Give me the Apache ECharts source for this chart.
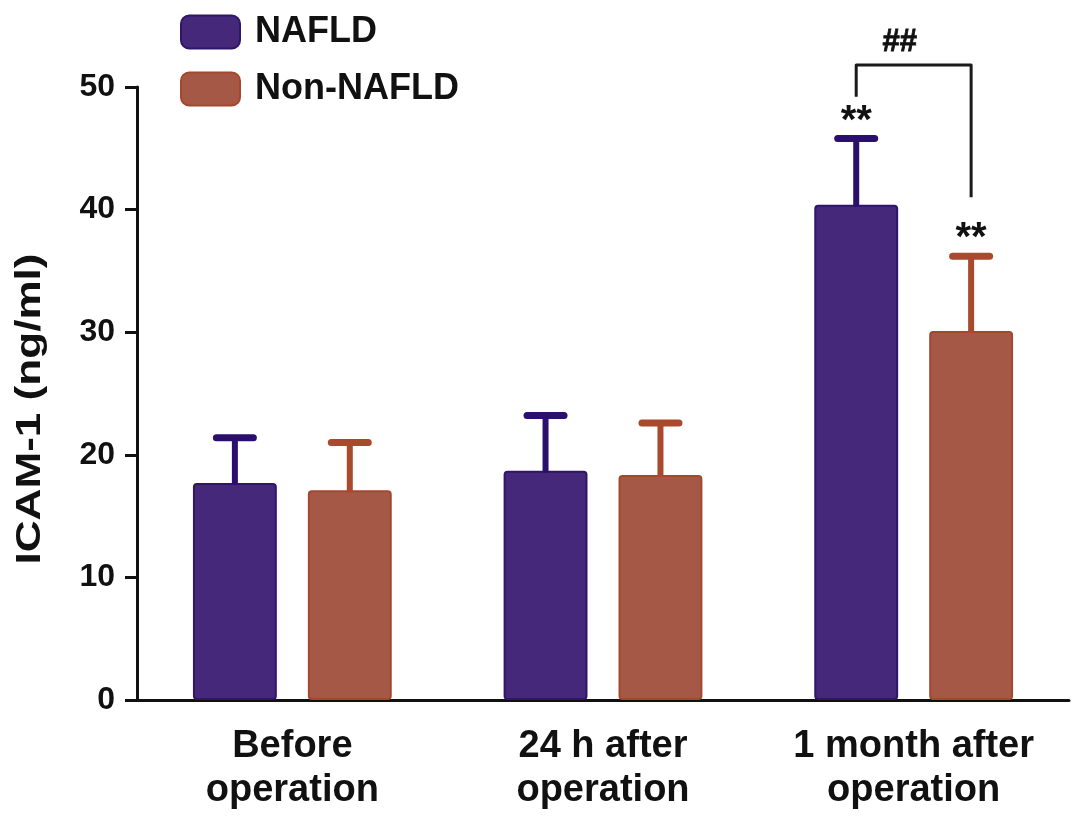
<!DOCTYPE html>
<html>
<head>
<meta charset="utf-8">
<script src="https://cdn.jsdelivr.net/npm/echarts@6/dist/echarts.min.js"></script>
<style>
html,body{margin:0;padding:0;background:#fff;}
#chart{width:1087px;height:829px;}
</style>
</head>
<body>
<div id="chart"></div>
<script>
// ---- data ----
const categories = ['Before\noperation', '24 h after\noperation', '1 month after\noperation'];
const seriesNames = ['NAFLD', 'Non-NAFLD'];
const nafldMean = [17.7, 18.7, 40.4];
const nafldSD = [3.7, 4.5, 5.4];
const nonMean = [17.1, 18.35, 30.1];
const nonSD = [3.9, 4.25, 6.1];
const yMin = 0, yMax = 50, yInterval = 10;
const yTitle = 'ICAM-1 (ng/ml)';
// significance marks: [categoryIndex, seriesIndex(0 NAFLD / 1 Non), text]
const starMarks = [[2, 0, '**'], [2, 1, '**']];
// bracket between groups: [categoryIndex, topValue, leftEndValue, rightEndValue]
const bracketData = [[2, 51.8, 49.2, 41.0]];
const bracketLabel = '##';

// ---- styling ----
const FONT = '"Liberation Sans", Arial, Helvetica, sans-serif';
const C_NAFLD = '#452879', C_NAFLD_B = '#2F1668', C_NAFLD_E = '#2A0F6C';
const C_NON = '#A65846', C_NON_B = '#A3482F', C_NON_E = '#A9492E';
const BAR_RATIO = 0.27, GAP_RATIO = 0.37;

function barOffset(api, sign) {
  const band = api.size([1, 0])[0];
  return sign * band * BAR_RATIO * (1 + GAP_RATIO) / 2;
}

function errRender(sign, color) {
  return function (params, api) {
    const i = api.value(0), m = api.value(1), s = api.value(2);
    const base = api.coord([i, m]);
    const top = api.coord([i, m + s]);
    const x = base[0] + barOffset(api, sign);
    const capHalf = 18.5;
    return {
      type: 'group',
      children: [
        { type: 'line', shape: { x1: x, y1: base[1] + 2, x2: x, y2: top[1] }, style: { stroke: color, lineWidth: 6 } },
        { type: 'line', shape: { x1: x - capHalf, y1: top[1], x2: x + capHalf, y2: top[1] }, style: { stroke: color, lineWidth: 7, lineCap: 'round' } }
      ]
    };
  };
}

const means = [nafldMean, nonMean];
const sds = [nafldSD, nonSD];

function starRender(params, api) {
  const i = api.value(0), si = api.value(1);
  const v = means[si][i] + sds[si][i];
  const p = api.coord([i, v]);
  const x = p[0] + barOffset(api, si === 0 ? -1 : 1);
  return {
    type: 'text',
    style: {
      x: x, y: p[1] - 17, text: starMarks[params.dataIndex][2],
      font: 'bold 40px ' + FONT, fill: '#111', align: 'center', verticalAlign: 'middle'
    }
  };
}

function bracketRender(params, api) {
  const i = api.value(0);
  const t = api.coord([i, api.value(1)]);
  const l = api.coord([i, api.value(2)]);
  const r = api.coord([i, api.value(3)]);
  const xl = t[0] + barOffset(api, -1);
  const xr = t[0] + barOffset(api, 1);
  return {
    type: 'group',
    children: [
      { type: 'polyline', shape: { points: [[xl, l[1]], [xl, t[1]], [xr, t[1]], [xr, r[1]]] },
        style: { stroke: '#1a1a1a', lineWidth: 3, fill: null, lineJoin: 'round' } },
      { type: 'text', style: { x: (xl + xr) / 2 - 14, y: t[1] - 22, text: bracketLabel,
        font: 'bold 31px ' + FONT, fill: '#111', align: 'center', verticalAlign: 'middle',
        stroke: '#111', lineWidth: 0.8 } }
    ]
  };
}

const chart = echarts.init(document.getElementById('chart'), null, { renderer: 'canvas' });
chart.setOption({
  backgroundColor: '#ffffff',
  animation: false,
  grid: { left: 137, right: 18, top: 87, bottom: 129, containLabel: false },
  legend: {
    data: seriesNames,
    orient: 'vertical',
    left: 180, top: 14,
    padding: 0,
    itemWidth: 59, itemHeight: 33, itemGap: 21,
    icon: 'roundRect',
    textStyle: { fontFamily: FONT, fontWeight: 'bold', fontSize: 36, color: '#111', padding: [0, 0, 0, 10] }
  },
  graphic: [{
    type: 'text',
    x: 30, y: 409,
    rotation: Math.PI / 2,
    scaleX: 1.26, scaleY: 1,
    style: {
      text: yTitle, font: 'bold 35px ' + FONT, fill: '#111',
      align: 'center', verticalAlign: 'middle'
    }
  }],
  xAxis: {
    type: 'category',
    data: categories,
    axisLine: { lineStyle: { color: '#111', width: 3 } },
    axisTick: { alignWithLabel: true, length: 15, lineStyle: { color: '#111', width: 3 } },
    axisLabel: { interval: 0, fontFamily: FONT, fontWeight: 'bold', fontSize: 38, lineHeight: 44, color: '#111', margin: 25 }
  },
  yAxis: {
    type: 'value',
    min: yMin, max: yMax, interval: yInterval,
    splitLine: { show: false },
    axisLine: { show: true, lineStyle: { color: '#111', width: 3 } },
    axisTick: { show: true, length: 12, lineStyle: { color: '#111', width: 3 } },
    axisLabel: { fontFamily: FONT, fontWeight: 'bold', fontSize: 32, color: '#111', margin: 22 }
  },
  series: [
    {
      name: seriesNames[0], type: 'bar', data: nafldMean,
      barWidth: (BAR_RATIO * 100) + '%', barGap: (GAP_RATIO * 100) + '%',
      itemStyle: { color: C_NAFLD, borderColor: C_NAFLD_B, borderWidth: 2, borderRadius: 3 }
    },
    {
      name: seriesNames[1], type: 'bar', data: nonMean,
      barWidth: (BAR_RATIO * 100) + '%', barGap: (GAP_RATIO * 100) + '%',
      itemStyle: { color: C_NON, borderColor: C_NON_B, borderWidth: 2, borderRadius: 3 }
    },
    {
      name: 'errN', type: 'custom', renderItem: errRender(-1, C_NAFLD_E), z: 5,
      data: nafldMean.map((m, i) => [i, m, nafldSD[i]])
    },
    {
      name: 'errO', type: 'custom', renderItem: errRender(1, C_NON_E), z: 5,
      data: nonMean.map((m, i) => [i, m, nonSD[i]])
    },
    {
      name: 'stars', type: 'custom', renderItem: starRender, z: 6, clip: false,
      data: starMarks.map(s => [s[0], s[1]])
    },
    {
      name: 'bracket', type: 'custom', renderItem: bracketRender, z: 6, clip: false,
      data: bracketData
    }
  ]
});
</script>
</body>
</html>
